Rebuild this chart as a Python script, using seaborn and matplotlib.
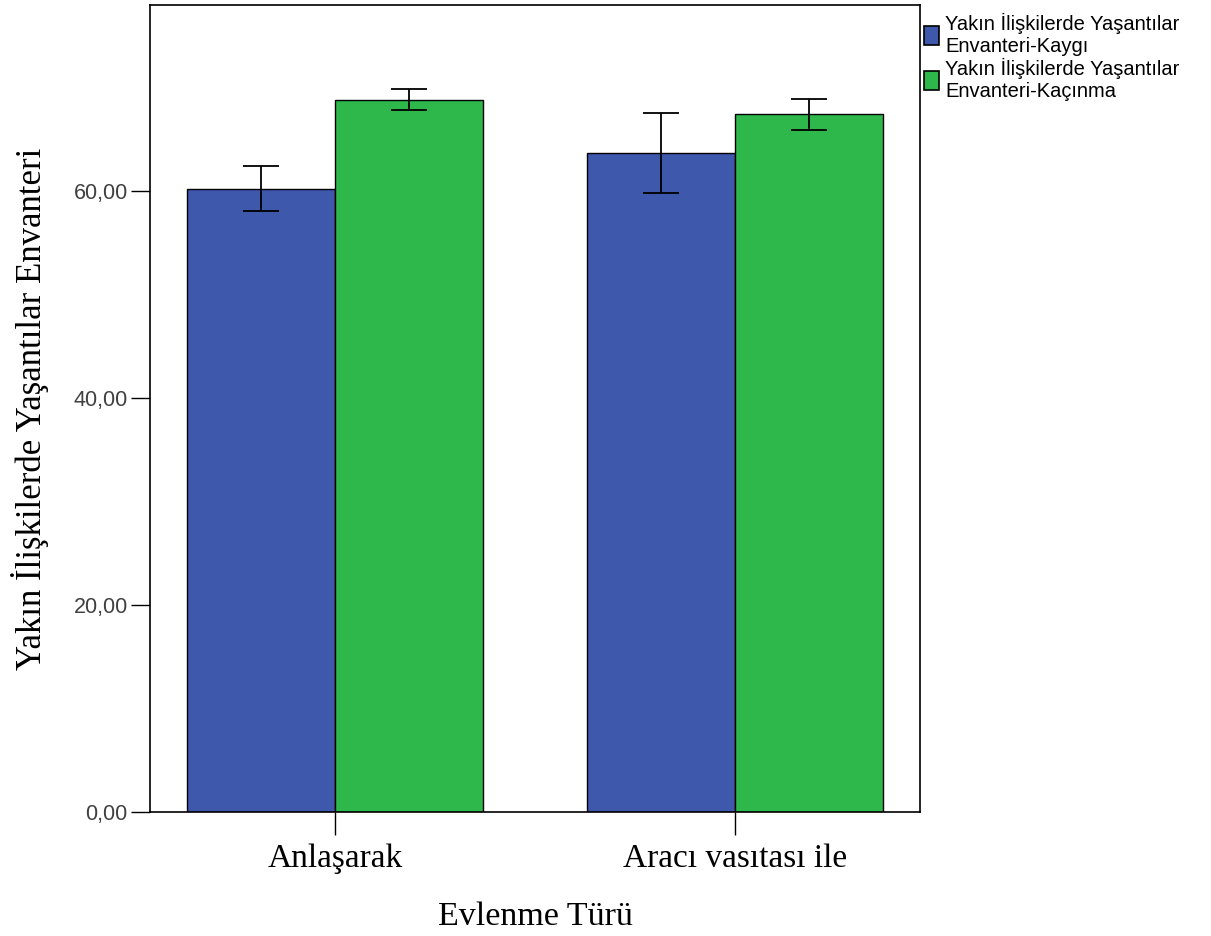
import matplotlib
matplotlib.use("Agg")
import matplotlib.pyplot as plt
import seaborn as sns
import pandas as pd
from matplotlib.patches import Patch

# ---- data ----
categories = ["Anlaşarak", "Aracı vasıtası ile"]
series = ["Yakın İlişkilerde Yaşantılar\nEnvanteri-Kaygı",
          "Yakın İlişkilerde Yaşantılar\nEnvanteri-Kaçınma"]
kaygi_mean = [60.26, 63.70]
kacinma_mean = [68.79, 67.44]
kaygi_low = [58.10, 59.84]
kaygi_high = [62.44, 67.57]
kacinma_low = [67.83, 65.89]
kacinma_high = [69.92, 68.96]
yticks = [0, 20, 40, 60]
ytick_labels = ["0,00", "20,00", "40,00", "60,00"]
colors = ["#3E58AC", "#2EB84B"]

df = pd.DataFrame({
    "cat": categories * 2,
    "series": [series[0]] * 2 + [series[1]] * 2,
    "value": kaygi_mean + kacinma_mean,
})

sns.set_theme(style="white")
plt.rcParams["font.family"] = ["Liberation Sans", "DejaVu Sans"]
plt.rcParams["text.color"] = "black"
plt.rcParams["axes.labelcolor"] = "black"

fig = plt.figure(figsize=(12.11, 9.36), dpi=100)
ax = fig.add_axes([150 / 1211, 1 - 812 / 936, 770 / 1211, 807 / 936])

sns.barplot(data=df, x="cat", y="value", hue="series", order=categories,
            hue_order=series, palette=colors, width=0.74, gap=0,
            errorbar=None, edgecolor="black", linewidth=1.0, saturation=1,
            ax=ax, legend=False)

means = [kaygi_mean, kacinma_mean]
lows = [kaygi_low, kacinma_low]
highs = [kaygi_high, kacinma_high]
for cont, m, lo, hi in zip(ax.containers, means, lows, highs):
    xs = [b.get_x() + b.get_width() / 2 for b in cont]
    yerr = [[mi - l for mi, l in zip(m, lo)], [h - mi for mi, h in zip(m, hi)]]
    ax.errorbar(xs, m, yerr=yerr, fmt="none", ecolor="black",
                elinewidth=1.3, capsize=13.3, capthick=1.3, zorder=5)

ax.set_xlim(-0.4625, 1.4625)
ax.set_ylim(0, 78)
ax.set_yticks(yticks)
ax.set_yticklabels(ytick_labels, fontsize=15.5, color="#404040",
                   family=["Liberation Sans", "DejaVu Sans"])
ax.set_xticks(range(len(categories)))
ax.set_xticklabels(categories, fontsize=24, color="black",
                   family=["Liberation Serif", "DejaVu Serif"])
ax.tick_params(axis="x", direction="out", length=16.5, width=1.0,
               color="black", pad=6, bottom=True)
ax.tick_params(axis="y", direction="out", length=14, width=1.0,
               color="black", pad=2, left=True)
for s in ax.spines.values():
    s.set_color("black")
    s.set_linewidth(1.2)
    s.set_visible(True)

ax.set_xlabel("Evlenme Türü", fontsize=24.5, color="black",
              family=["Liberation Serif", "DejaVu Serif"], labelpad=20)
ax.set_ylabel("Yakın İlişkilerde Yaşantılar Envanteri", fontsize=25, color="black",
              family=["Liberation Serif", "DejaVu Serif"], labelpad=18)

handles = [Patch(facecolor=c, edgecolor="black", linewidth=1.2) for c in colors]
ax.legend(handles, series, loc="upper left", bbox_to_anchor=(1.0, 0.995),
          frameon=False, borderpad=0.1, borderaxespad=0.1,
          handlelength=0.75, handleheight=1.1, handletextpad=0.3,
          labelspacing=0.1, labelcolor="black",
          prop={"family": ["Liberation Sans", "DejaVu Sans"], "size": 14.5})

fig.savefig("out.png", dpi=100, facecolor="white")
